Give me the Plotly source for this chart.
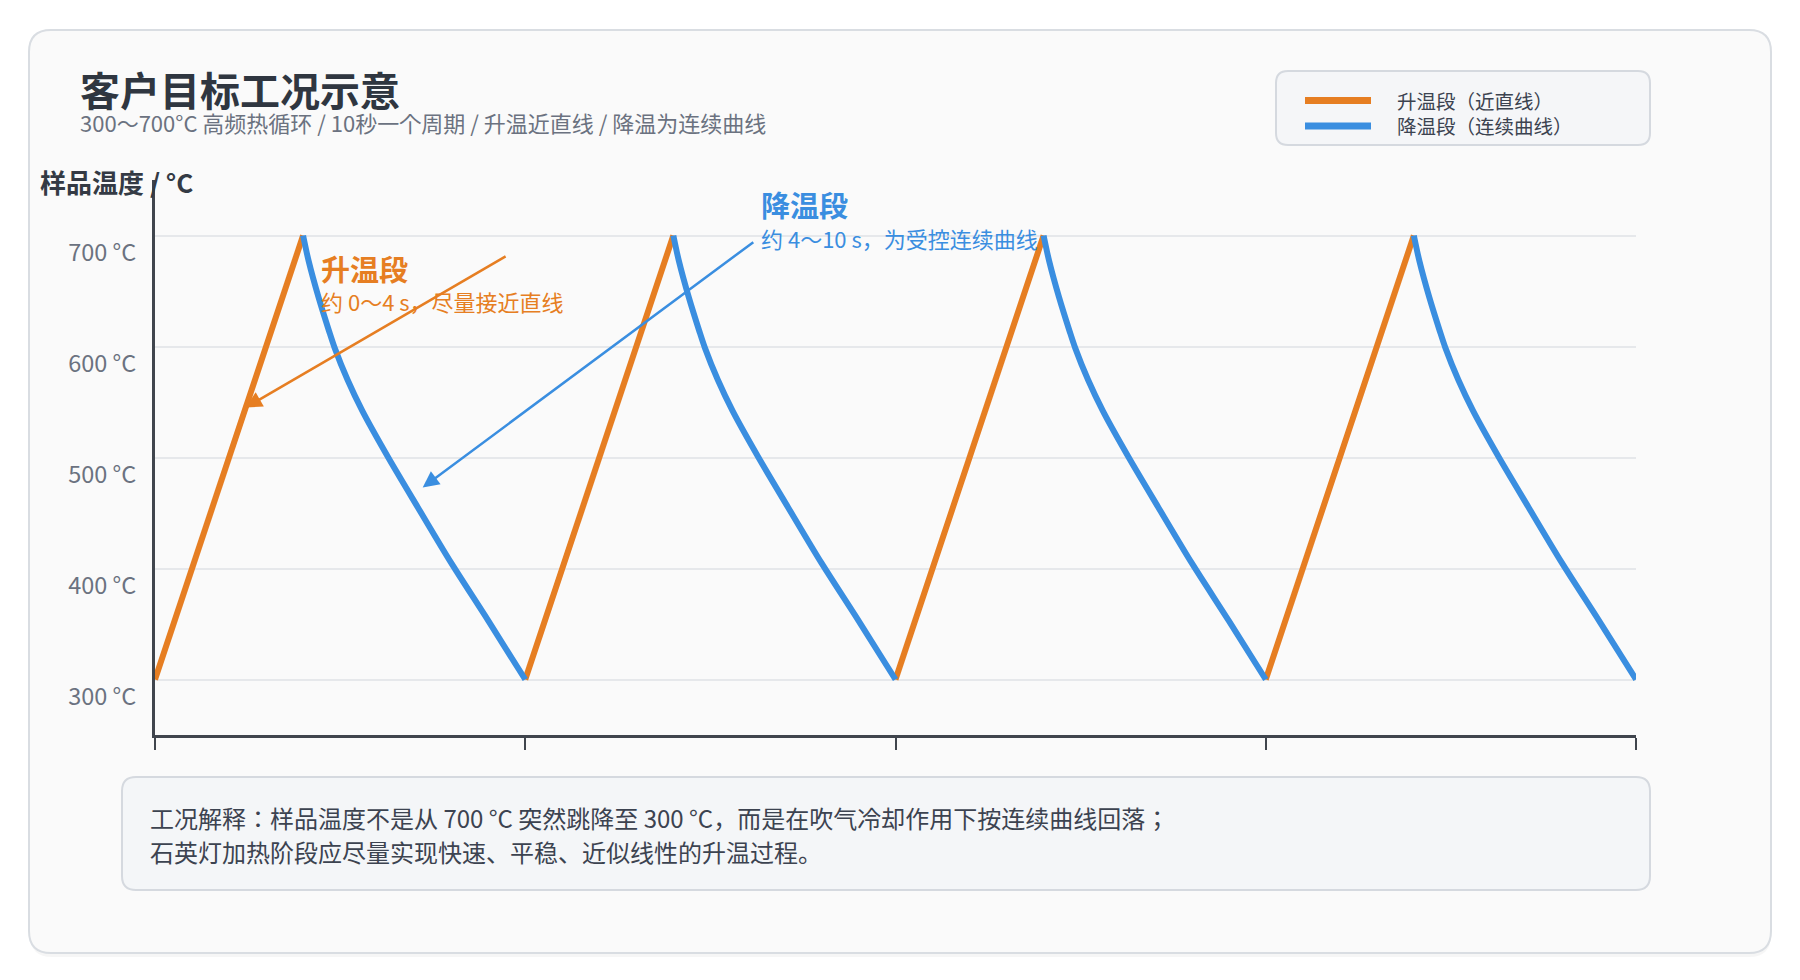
import plotly.graph_objects as go

# ---------------- data ----------------
cycle_starts = [0, 10, 20, 30]                 # s, one cycle every 10 s
rise_time = [0.0, 4.0]                         # s within a cycle
rise_temp = [300, 700]                         # °C
fall_time = [4.0, 4.15, 4.42, 4.70, 4.85, 5.20, 5.60, 6.3, 7.1, 8.0, 9.0, 10.0]
fall_temp = [700, 677, 644, 614, 599, 570, 542, 500, 455, 405, 353, 300]
y_tick_vals = [300, 400, 500, 600, 700]
y_tick_text = ["300 °C", "400 °C", "500 °C", "600 °C", "700 °C"]
x_tick_vals = [0, 10, 20, 30, 40]
series_names = ["升温段（近直线）", "降温段（连续曲线）"]

ORANGE = "#E67E22"
BLUE = "#3A8EE0"
FONT = "Noto Sans CJK JP"

# ---------------- build series ----------------
rx, ry, fx, fy = [], [], [], []
for s in cycle_starts:
    rx += [s + t for t in rise_time] + [None]
    ry += list(rise_temp) + [None]
    fx += [s + t for t in fall_time] + [None]
    fy += list(fall_temp) + [None]

fig = go.Figure()
fig.add_trace(go.Scatter(x=rx, y=ry, mode="lines", name=series_names[0], showlegend=False,
                         line=dict(color=ORANGE, width=6), hoverinfo="skip"))
fig.add_trace(go.Scatter(x=fx, y=fy, mode="lines", name=series_names[1], showlegend=False,
                         line=dict(color=BLUE, width=6, shape="spline", smoothing=0.8),
                         hoverinfo="skip"))

# ---------------- layout geometry (pixels) ----------------
W, H = 1800, 980
L, R, T, B = 155, 1636, 180, 735


def X(px):
    return (px - L) / (R - L)


def Y(py):
    return (B - py) / (B - T)


def rrect(x0, y0, x1, y1, r):
    return (f"M {X(x0 + r)},{Y(y0)} L {X(x1 - r)},{Y(y0)} Q {X(x1)},{Y(y0)} {X(x1)},{Y(y0 + r)} "
            f"L {X(x1)},{Y(y1 - r)} Q {X(x1)},{Y(y1)} {X(x1 - r)},{Y(y1)} "
            f"L {X(x0 + r)},{Y(y1)} Q {X(x0)},{Y(y1)} {X(x0)},{Y(y1 - r)} "
            f"L {X(x0)},{Y(y0 + r)} Q {X(x0)},{Y(y0)} {X(x0 + r)},{Y(y0)} Z")


shapes = [
    dict(type="path", xref="paper", yref="paper", layer="below",
         path=rrect(30, 34, 1771, 957, 22), fillcolor="rgba(0,0,0,0.035)", line=dict(width=0)),
    dict(type="path", xref="paper", yref="paper", layer="below",
         path=rrect(29, 30, 1771, 953, 22), fillcolor="#FAFAFA", line=dict(color="#D9DDE2", width=2)),
    dict(type="path", xref="paper", yref="paper", layer="below",
         path=rrect(1276, 71, 1650, 145, 12), fillcolor="#F5F6F8", line=dict(color="#D5D9DF", width=2)),
    dict(type="path", xref="paper", yref="paper", layer="below",
         path=rrect(122, 777, 1650, 890, 14), fillcolor="#F4F6F8", line=dict(color="#D5D9DF", width=2)),
    # legend keys
    dict(type="line", xref="paper", yref="paper", x0=X(1305), x1=X(1371), y0=Y(100.5), y1=Y(100.5),
         line=dict(color=ORANGE, width=7)),
    dict(type="line", xref="paper", yref="paper", x0=X(1305), x1=X(1371), y0=Y(126), y1=Y(126),
         line=dict(color=BLUE, width=7)),
]

annotations = [
    dict(xref="paper", yref="paper", x=X(78), y=Y(98.6), xanchor="left", yanchor="middle",
         align="left", showarrow=False, font=dict(size=20.1, color="#6B7280"),
         text=("<span style='font-size:40px;color:#2F3640'><b>客户目标工况示意</b></span><br>"
               "<span style='font-size:22px'>300～700°C 高频热循环 / 10秒一个周期 / 升温近直线 / 降温为连续曲线</span>")),
    dict(xref="paper", yref="paper", x=X(38), y=Y(181), xanchor="left", yanchor="middle",
         text="<b>样品温度 / °C</b>", showarrow=False, font=dict(size=26, color="#343A44")),
    # segment labels
    dict(x=4.42, y=658.1, xanchor="left", yanchor="middle", align="left", showarrow=False,
         font=dict(size=23.3, color=ORANGE),
         text="<span style='font-size:29px'><b>升温段</b></span><br>"
              "<span style='font-size:22px'>约 0～4 s，尽量接近直线</span>"),
    dict(x=16.31, y=715.7, xanchor="left", yanchor="middle", align="left", showarrow=False,
         font=dict(size=24.1, color=BLUE),
         text="<span style='font-size:29px'><b>降温段</b></span><br>"
              "<span style='font-size:22px'>约 4～10 s，为受控连续曲线</span>"),
    # arrows
    dict(x=2.45, y=545, ax=9.51, ay=682, axref="x", ayref="y", text="", showarrow=True,
         arrowhead=2, arrowsize=1.3, arrowwidth=2.5, arrowcolor=ORANGE, standoff=0, startstandoff=0),
    dict(x=7.23, y=473, ax=16.2, ay=695, axref="x", ayref="y", text="", showarrow=True,
         arrowhead=2, arrowsize=1.3, arrowwidth=2.5, arrowcolor=BLUE, standoff=0, startstandoff=0),
    # legend text
    dict(xref="paper", yref="paper", x=X(1395), y=Y(113.3), xanchor="left", yanchor="middle",
         align="left", showarrow=False, font=dict(size=19.6, color="#3C4350"),
         text=(f"<span style='font-size:19.5px'>{series_names[0]}</span><br>"
               f"<span style='font-size:19.5px'>{series_names[1]}</span>")),
    # note
    dict(xref="paper", yref="paper", x=X(148), y=Y(834.5), xanchor="left", yanchor="middle",
         align="left", showarrow=False, font=dict(size=26.4, color="#3C4350"),
         text=("<span style='font-size:24px'>工况解释：样品温度不是从 700 °C 突然跳降至 300 °C，而是在吹气冷却作用下按连续曲线回落；</span><br>"
               "<span style='font-size:24px'>石英灯加热阶段应尽量实现快速、平稳、近似线性的升温过程。</span>")),
]

fig.update_layout(
    width=W, height=H,
    margin=dict(l=L, r=W - R, t=T, b=H - B, pad=0),
    paper_bgcolor="#FFFFFF",
    plot_bgcolor="rgba(0,0,0,0)",
    font=dict(family=FONT, color="#3C4350"),
    shapes=shapes,
    annotations=annotations,
    showlegend=False,
    xaxis=dict(range=[0, 40], tickvals=x_tick_vals, showticklabels=False,
               showgrid=False, zeroline=False, showline=True, linecolor="#40454D",
               linewidth=3, ticks="outside", ticklen=12, tickwidth=2, tickcolor="#40454D",
               fixedrange=True),
    yaxis=dict(range=[250, 750], tickvals=y_tick_vals, ticktext=y_tick_text,
               showgrid=True, gridcolor="#E6E8EB", gridwidth=1.5, zeroline=False,
               showline=True, linecolor="#40454D", linewidth=3, ticks="",
               tickfont=dict(size=23.5, color="#6B7280"), ticklabelstandoff=11,
               ticklabelshift=17, fixedrange=True),
)

fig.write_html("out.html", config={"displayModeBar": False},
               post_script="document.body.style.margin='0';document.body.style.overflow='hidden';")
